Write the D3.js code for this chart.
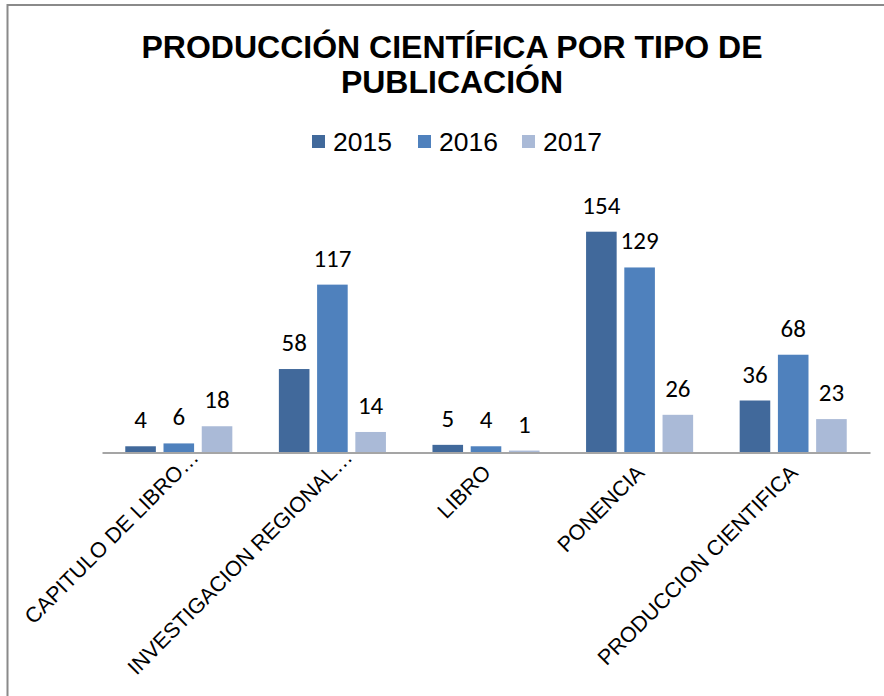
<!DOCTYPE html>
<html><head><meta charset="utf-8">
<script src="https://cdn.jsdelivr.net/npm/d3@7"></script>
<style>body{margin:0;background:#fff}svg{display:block}</style>
</head><body>
<svg id="c" width="884" height="696"></svg>
<script>
const categories = ["CAPITULO DE LIBRO…","INVESTIGACION REGIONAL…","LIBRO","PONENCIA","PRODUCCION CIENTIFICA"];
const years = ["2015","2016","2017"];
const v2015 = [4, 58, 5, 154, 36];
const v2016 = [6, 117, 4, 129, 68];
const v2017 = [18, 14, 1, 26, 23];
const colors = ["#41699b", "#4f81bd", "#aabad7"];
const titleLines = ["PRODUCCIÓN CIENTÍFICA POR TIPO DE", "PUBLICACIÓN"];

const series = [v2015, v2016, v2017];
const svg = d3.select("#c");

// outer border (left and top visible)
svg.append("rect").attr("x",7.5).attr("y",5).attr("width",920).attr("height",720)
  .attr("fill","none").attr("stroke","#8a8a8a").attr("stroke-width",2);

// title
svg.append("text").attr("x",452).attr("y",58).attr("text-anchor","middle")
  .style("font-family","Liberation Sans, Arial").style("font-weight","bold").style("font-size","32px")
  .selectAll("tspan").data(titleLines).join("tspan")
  .attr("x",452).attr("dy",(d,i)=> i===0?0:35).text(d=>d);

// scales
const x = d3.scaleBand().domain(categories).range([102, 870]).paddingInner(0).paddingOuter(0);
const x1 = d3.scaleBand().domain(years).range([0, x.bandwidth()*0.697]).paddingInner(0.2);
const groupOff = (x.bandwidth() - x.bandwidth()*0.697)/2;
const y = d3.scaleLinear().domain([0,160]).range([452, 452-160*1.4305]);
const color = d3.scaleOrdinal().domain(years).range(colors);

// legend
const legend = svg.append("g");
const legX = [312, 418, 522];
years.forEach((yr,i)=>{
  legend.append("rect").attr("x",legX[i]).attr("y",135).attr("width",13).attr("height",13).attr("fill",color(yr));
  legend.append("text").attr("x",legX[i]+21).attr("y",151)
    .style("font-family","Liberation Sans, Arial").style("font-size","26.5px").attr("fill","#000").text(yr);
});

// bars
const rows = [];
categories.forEach((c,ci)=>years.forEach((yr,si)=>rows.push({c, yr, v: series[si][ci]})));
svg.append("g").selectAll("rect").data(rows).join("rect")
  .attr("x", d=> x(d.c)+groupOff+x1(d.yr))
  .attr("y", d=> y(d.v))
  .attr("width", x1.bandwidth())
  .attr("height", d=> y(0)-y(d.v))
  .attr("fill", d=> color(d.yr));

// data labels
svg.append("g").selectAll("text").data(rows).join("text")
  .attr("x", d=> x(d.c)+groupOff+x1(d.yr)+x1.bandwidth()/2)
  .attr("y", d=> y(d.v)-18)
  .attr("text-anchor","middle")
  .style("font-family","Carlito, Lato, sans-serif").style("font-size","25px").attr("fill","#000")
  .text(d=>d.v);

// axis line
const axis = d3.axisBottom(x).tickSize(0).tickFormat("");
const ag = svg.append("g").attr("transform","translate(0,452.5)").call(axis);
ag.select(".domain").attr("stroke","#878787").attr("stroke-width",1.6);

// category labels, rotated
const lab = svg.append("g");
categories.forEach(c=>{
  const main = c.replace(/…$/,"");
  const hasEll = main !== c;
  const ex = x(c)+x.bandwidth()/2+6, ey = 474;
  const g = lab.append("g").attr("transform",`translate(${ex},${ey}) rotate(-45)`);
  g.append("text").attr("text-anchor","end")
    .style("font-family","Liberation Sans, Arial").style("font-size","21.5px").attr("fill","#000").text(main);
  if (hasEll) g.append("text").attr("text-anchor","start")
    .style("font-family","Liberation Sans, Arial").style("font-size","21.5px").attr("fill","#000").text("…");
});
</script>
</body></html>
